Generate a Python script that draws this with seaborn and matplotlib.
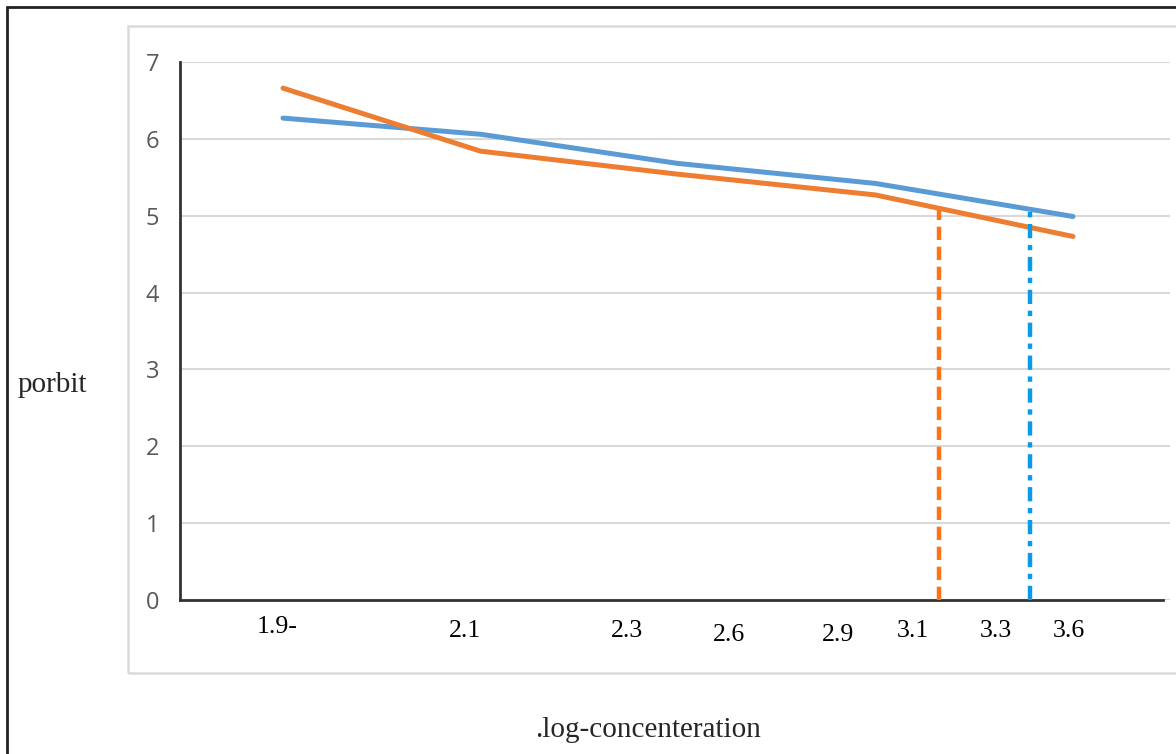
import numpy as np
import pandas as pd
import matplotlib
matplotlib.use("Agg")
import matplotlib.pyplot as plt
from matplotlib.lines import Line2D
from matplotlib.patches import Rectangle
import seaborn as sns

# data
point_idx = [0, 1, 2, 3, 4]
blue_vals = [6.27, 6.06, 5.68, 5.42, 4.99]
orange_vals = [6.66, 5.84, 5.54, 5.27, 4.73]

# x tick labels (placed irregularly, as in the source)
tick_labels = ["1.9-", "2.1", "2.3", "2.6", "2.9", "3.1", "3.3", "3.6"]
tick_pos = [-0.03, 0.92, 1.74, 2.26, 2.81, 3.19, 3.61, 3.98]
tick_drop = [0, 1, 1, 2, 2, 1, 1, 1]

# vertical reference lines (x position, height)
orange_ref = (3.32, 5.07)
blue_ref = (3.78, 5.11)

BLUE = "#5B9BD5"
ORANGE = "#ED7D31"

df = pd.DataFrame({
    "x": point_idx * 2,
    "y": blue_vals + orange_vals,
    "series": ["a"] * 5 + ["b"] * 5,
})

sns.set_style("white")
plt.rcParams["font.family"] = ["Liberation Serif", "DejaVu Serif"]

fig = plt.figure(figsize=(11.76, 7.54), dpi=100)
W, H = 1176, 754

# outer frame (left and top only) and inner light box
fig.add_artist(Line2D([7 / W, 7 / W], [0, 1 - 7 / H], color="#222222", lw=2,
                      transform=fig.transFigure))
fig.add_artist(Line2D([7 / W, 1], [1 - 7 / H, 1 - 7 / H], color="#222222", lw=2,
                      transform=fig.transFigure))
fig.add_artist(Rectangle((128 / W, 1 - 673 / H), 1.2, (673 - 26) / H,
                         transform=fig.transFigure, fill=False,
                         edgecolor="#DADADA", lw=1.8))

ax = fig.add_axes([180 / W, 1 - 600 / H, (1170 - 180) / W, (600 - 62) / H])

sns.lineplot(data=df, x="x", y="y", hue="series",
             palette={"a": BLUE, "b": ORANGE}, linewidth=3.6,
             legend=False, ax=ax, solid_capstyle="round")

ax.vlines(orange_ref[0], 0, orange_ref[1], colors="#FF7418", lw=3.2,
          linestyles=(0, (3.0, 1.5)), zorder=3)
ax.vlines(blue_ref[0], 0, blue_ref[1], colors="#0A9BE8", lw=3.2,
          linestyles=(0, (3.2, 1.5, 1.2, 1.5)), zorder=3)

xmin = (180 - 283) / 197.5
xmax = (1170 - 283) / 197.5
ax.set_xlim(xmin, xmax)
ax.set_ylim(0, 7)

ax.set_yticks(range(0, 8))
ax.yaxis.grid(True, color="#D9D9D9", lw=1.5)
ax.set_axisbelow(True)
ax.tick_params(axis="y", length=0, pad=15, labelsize=17, labelcolor="#595959")
for lab in ax.get_yticklabels():
    lab.set_fontfamily(["Open Sans", "DejaVu Sans"])

ax.set_xticks([])
for sp in ["top", "right"]:
    ax.spines[sp].set_visible(False)
ax.spines["left"].set_color("#333333")
ax.spines["left"].set_linewidth(2)
ax.spines["bottom"].set_color("#333333")
ax.spines["bottom"].set_linewidth(2)
ax.spines["bottom"].set_bounds(xmin, (1163 - 283) / 197.5)

trans = matplotlib.transforms.blended_transform_factory(ax.transData, ax.transAxes)
for pos, lab, drop in zip(tick_pos, tick_labels, tick_drop):
    y_px = 627 + drop * 4
    ax.text(pos, -(y_px - 600) / (600 - 62), lab, transform=trans,
            ha="center", va="center", fontsize=18.5, color="black")

ax.set_xlabel("")
ax.set_ylabel("")
fig.text(18 / W, 1 - 385 / H, "porbit", fontsize=21, ha="left", va="center")
fig.text(535 / W, 1 - 730 / H, ".log-concenteration", fontsize=21,
         ha="left", va="center")

fig.savefig("out.png", dpi=100)
